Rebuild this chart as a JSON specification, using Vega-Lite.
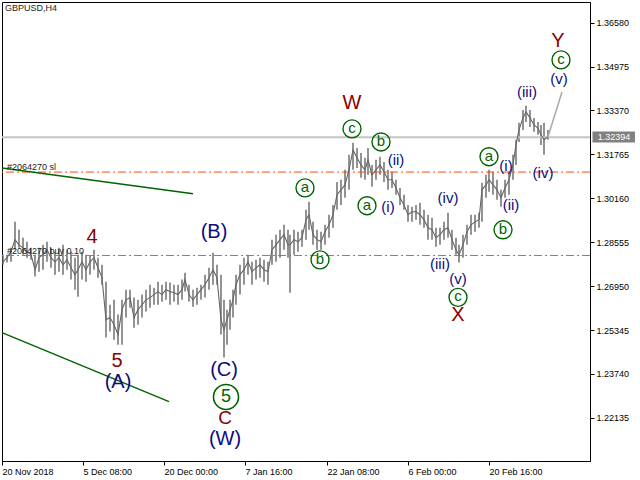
{
  "$schema": "https://vega.github.io/schema/vega-lite/v6.json",
  "width": 588,
  "height": 459,
  "autosize": {"type": "none"},
  "padding": {"left": 2, "top": 2, "right": 50, "bottom": 19},
  "background": "white",
  "config": {
    "view": {"stroke": "#000000", "strokeWidth": 1},
    "font": "Liberation Sans",
    "axis": {"grid": false, "labelFont": "Liberation Sans", "labelFontSize": 9, "labelColor": "#000000", "tickColor": "#000000", "domainColor": "#000000", "labelOverlap": false}
  },
  "datasets": {
    "levels": [
      {"p": 1.32394, "kind": "price"},
      {"p": 1.3112, "kind": "sl"},
      {"p": 1.2807, "kind": "buy"}
    ],
    "bars": [
      {"t":1,"high":1.2810,"low":1.2773,"close":1.2784},
      {"t":5,"high":1.2810,"low":1.2781,"close":1.2799},
      {"t":9,"high":1.2835,"low":1.2784,"close":1.2821},
      {"t":13,"high":1.2930,"low":1.2828,"close":1.2865},
      {"t":17,"high":1.2901,"low":1.2835,"close":1.2846},
      {"t":21,"high":1.2872,"low":1.2810,"close":1.2835},
      {"t":25,"high":1.2857,"low":1.2799,"close":1.2821},
      {"t":29,"high":1.2835,"low":1.2791,"close":1.2810},
      {"t":33,"high":1.2810,"low":1.2730,"close":1.2755},
      {"t":37,"high":1.2835,"low":1.2748,"close":1.2799},
      {"t":41,"high":1.2846,"low":1.2755,"close":1.2810},
      {"t":45,"high":1.2857,"low":1.2784,"close":1.2828},
      {"t":49,"high":1.2835,"low":1.2762,"close":1.2799},
      {"t":53,"high":1.2821,"low":1.2737,"close":1.2784},
      {"t":57,"high":1.2835,"low":1.2748,"close":1.2799},
      {"t":61,"high":1.2846,"low":1.2737,"close":1.2773},
      {"t":65,"high":1.2828,"low":1.2755,"close":1.2791},
      {"t":69,"high":1.2821,"low":1.2719,"close":1.2762},
      {"t":73,"high":1.2799,"low":1.2682,"close":1.2737},
      {"t":76,"high":1.2810,"low":1.2656,"close":1.2755},
      {"t":80,"high":1.2821,"low":1.2719,"close":1.2784},
      {"t":84,"high":1.2810,"low":1.2711,"close":1.2755},
      {"t":88,"high":1.2806,"low":1.2737,"close":1.2784},
      {"t":92,"high":1.2828,"low":1.2755,"close":1.2799},
      {"t":96,"high":1.2799,"low":1.2726,"close":1.2762},
      {"t":100,"high":1.2773,"low":1.2700,"close":1.2726},
      {"t":104,"high":1.2711,"low":1.2507,"close":1.2572},
      {"t":108,"high":1.2627,"low":1.2529,"close":1.2580},
      {"t":112,"high":1.2645,"low":1.2499,"close":1.2554},
      {"t":116,"high":1.2591,"low":1.2481,"close":1.2518},
      {"t":120,"high":1.2645,"low":1.2481,"close":1.2609},
      {"t":124,"high":1.2682,"low":1.2580,"close":1.2645},
      {"t":128,"high":1.2682,"low":1.2616,"close":1.2653},
      {"t":132,"high":1.2653,"low":1.2543,"close":1.2580},
      {"t":136,"high":1.2645,"low":1.2554,"close":1.2609},
      {"t":140,"high":1.2664,"low":1.2580,"close":1.2627},
      {"t":144,"high":1.2682,"low":1.2602,"close":1.2645},
      {"t":148,"high":1.2700,"low":1.2616,"close":1.2653},
      {"t":152,"high":1.2689,"low":1.2627,"close":1.2664},
      {"t":156,"high":1.2711,"low":1.2627,"close":1.2675},
      {"t":160,"high":1.2700,"low":1.2638,"close":1.2664},
      {"t":164,"high":1.2711,"low":1.2645,"close":1.2682},
      {"t":168,"high":1.2708,"low":1.2627,"close":1.2675},
      {"t":172,"high":1.2700,"low":1.2638,"close":1.2671},
      {"t":176,"high":1.2700,"low":1.2627,"close":1.2664},
      {"t":180,"high":1.2719,"low":1.2645,"close":1.2682},
      {"t":183,"high":1.2744,"low":1.2675,"close":1.2719},
      {"t":187,"high":1.2700,"low":1.2638,"close":1.2664},
      {"t":191,"high":1.2682,"low":1.2620,"close":1.2645},
      {"t":195,"high":1.2689,"low":1.2627,"close":1.2664},
      {"t":199,"high":1.2700,"low":1.2645,"close":1.2682},
      {"t":203,"high":1.2737,"low":1.2653,"close":1.2700},
      {"t":207,"high":1.2762,"low":1.2682,"close":1.2726},
      {"t":211,"high":1.2817,"low":1.2700,"close":1.2755},
      {"t":215,"high":1.2773,"low":1.2700,"close":1.2726},
      {"t":219,"high":1.2737,"low":1.2518,"close":1.2572},
      {"t":222,"high":1.2645,"low":1.2434,"close":1.2536},
      {"t":225,"high":1.2609,"low":1.2481,"close":1.2572},
      {"t":228,"high":1.2645,"low":1.2536,"close":1.2609},
      {"t":231,"high":1.2682,"low":1.2580,"close":1.2645},
      {"t":234,"high":1.2737,"low":1.2627,"close":1.2700},
      {"t":238,"high":1.2773,"low":1.2664,"close":1.2737},
      {"t":242,"high":1.2799,"low":1.2700,"close":1.2755},
      {"t":246,"high":1.2810,"low":1.2737,"close":1.2784},
      {"t":250,"high":1.2784,"low":1.2700,"close":1.2748},
      {"t":254,"high":1.2791,"low":1.2719,"close":1.2762},
      {"t":258,"high":1.2799,"low":1.2726,"close":1.2773},
      {"t":262,"high":1.2791,"low":1.2711,"close":1.2755},
      {"t":266,"high":1.2784,"low":1.2700,"close":1.2748},
      {"t":270,"high":1.2865,"low":1.2773,"close":1.2828},
      {"t":274,"high":1.2883,"low":1.2784,"close":1.2846},
      {"t":278,"high":1.2901,"low":1.2799,"close":1.2865},
      {"t":282,"high":1.2919,"low":1.2828,"close":1.2883},
      {"t":286,"high":1.2901,"low":1.2799,"close":1.2846},
      {"t":288,"high":1.2883,"low":1.2671,"close":1.2846},
      {"t":292,"high":1.2901,"low":1.2810,"close":1.2865},
      {"t":296,"high":1.2894,"low":1.2821,"close":1.2857},
      {"t":300,"high":1.2901,"low":1.2839,"close":1.2872},
      {"t":304,"high":1.2974,"low":1.2865,"close":1.2938},
      {"t":307,"high":1.3003,"low":1.2901,"close":1.2956},
      {"t":311,"high":1.2930,"low":1.2846,"close":1.2883},
      {"t":315,"high":1.2901,"low":1.2828,"close":1.2865},
      {"t":319,"high":1.2894,"low":1.2828,"close":1.2857},
      {"t":323,"high":1.2919,"low":1.2846,"close":1.2894},
      {"t":327,"high":1.2956,"low":1.2872,"close":1.2919},
      {"t":331,"high":1.2992,"low":1.2908,"close":1.2956},
      {"t":335,"high":1.3076,"low":1.2974,"close":1.3029},
      {"t":339,"high":1.3084,"low":1.2992,"close":1.3047},
      {"t":343,"high":1.3120,"low":1.3018,"close":1.3065},
      {"t":347,"high":1.3175,"low":1.3047,"close":1.3120},
      {"t":351,"high":1.3219,"low":1.3120,"close":1.3193},
      {"t":355,"high":1.3200,"low":1.3127,"close":1.3164},
      {"t":359,"high":1.3182,"low":1.3091,"close":1.3138},
      {"t":363,"high":1.3164,"low":1.3084,"close":1.3120},
      {"t":366,"high":1.3200,"low":1.3102,"close":1.3157},
      {"t":370,"high":1.3138,"low":1.3058,"close":1.3102},
      {"t":374,"high":1.3157,"low":1.3084,"close":1.3120},
      {"t":378,"high":1.3168,"low":1.3102,"close":1.3138},
      {"t":382,"high":1.3149,"low":1.3076,"close":1.3113},
      {"t":386,"high":1.3120,"low":1.3047,"close":1.3084},
      {"t":390,"high":1.3113,"low":1.3054,"close":1.3084},
      {"t":394,"high":1.3084,"low":1.3029,"close":1.3054},
      {"t":398,"high":1.3054,"low":1.2992,"close":1.3018},
      {"t":402,"high":1.3029,"low":1.2974,"close":1.2992},
      {"t":406,"high":1.2992,"low":1.2930,"close":1.2956},
      {"t":410,"high":1.2985,"low":1.2930,"close":1.2967},
      {"t":414,"high":1.2992,"low":1.2938,"close":1.2967},
      {"t":418,"high":1.3000,"low":1.2919,"close":1.2956},
      {"t":422,"high":1.2974,"low":1.2908,"close":1.2938},
      {"t":426,"high":1.2956,"low":1.2865,"close":1.2908},
      {"t":430,"high":1.2945,"low":1.2865,"close":1.2901},
      {"t":434,"high":1.2908,"low":1.2839,"close":1.2872},
      {"t":438,"high":1.2908,"low":1.2846,"close":1.2883},
      {"t":442,"high":1.2930,"low":1.2865,"close":1.2901},
      {"t":446,"high":1.2963,"low":1.2872,"close":1.2908},
      {"t":450,"high":1.2901,"low":1.2828,"close":1.2865},
      {"t":454,"high":1.2872,"low":1.2810,"close":1.2828},
      {"t":457,"high":1.2846,"low":1.2781,"close":1.2810},
      {"t":461,"high":1.2883,"low":1.2799,"close":1.2846},
      {"t":465,"high":1.2919,"low":1.2846,"close":1.2894},
      {"t":469,"high":1.2956,"low":1.2883,"close":1.2919},
      {"t":473,"high":1.2956,"low":1.2894,"close":1.2930},
      {"t":477,"high":1.2963,"low":1.2908,"close":1.2938},
      {"t":480,"high":1.3073,"low":1.2930,"close":1.3047},
      {"t":484,"high":1.3102,"low":1.3018,"close":1.3065},
      {"t":487,"high":1.3120,"low":1.3040,"close":1.3084},
      {"t":491,"high":1.3113,"low":1.3029,"close":1.3065},
      {"t":495,"high":1.3084,"low":1.3011,"close":1.3047},
      {"t":499,"high":1.3047,"low":1.2985,"close":1.3018},
      {"t":503,"high":1.3084,"low":1.3018,"close":1.3054},
      {"t":507,"high":1.3113,"low":1.3029,"close":1.3084},
      {"t":511,"high":1.3175,"low":1.3084,"close":1.3138},
      {"t":514,"high":1.3230,"low":1.3138,"close":1.3211},
      {"t":517,"high":1.3292,"low":1.3222,"close":1.3266},
      {"t":521,"high":1.3339,"low":1.3266,"close":1.3310},
      {"t":524,"high":1.3354,"low":1.3295,"close":1.3332},
      {"t":528,"high":1.3339,"low":1.3277,"close":1.3310},
      {"t":532,"high":1.3310,"low":1.3259,"close":1.3284},
      {"t":536,"high":1.3295,"low":1.3248,"close":1.3273},
      {"t":539,"high":1.3284,"low":1.3211,"close":1.3248},
      {"t":542,"high":1.3292,"low":1.3175,"close":1.3230},
      {"t":546,"high":1.3266,"low":1.3230,"close":1.3241}
    ],
    "trend": [
      {"line":"upper","t":0,"p":1.3127},
      {"line":"upper","t":191,"p":1.3033},
      {"line":"lower","t":0,"p":1.2525},
      {"line":"lower","t":167,"p":1.2273}
    ],
    "proj": [
      {"t":546,"p":1.3241},
      {"t":560,"p":1.3405}
    ],
    "notes": [
      {"t":3,"p":1.3712,"label":"GBPUSD,H4"},
      {"t":5,"p":1.3131,"label":"#2064270 sl"},
      {"t":5,"p":1.2824,"label":"#2064270 buy 0.10"}
    ],
    "waves": [
      {"t":90,"p":1.2875,"label":"4","kind":"red"},
      {"t":115,"p":1.2423,"label":"5","kind":"red"},
      {"t":223,"p":1.2213,"label":"C","kind":"redc"},
      {"t":350,"p":1.3365,"label":"W","kind":"red"},
      {"t":456,"p":1.2590,"label":"X","kind":"red"},
      {"t":556,"p":1.3591,"label":"Y","kind":"red"},
      {"t":116,"p":1.2346,"label":"(A)","kind":"big"},
      {"t":212,"p":1.2894,"label":"(B)","kind":"big"},
      {"t":222,"p":1.2388,"label":"(C)","kind":"big"},
      {"t":223,"p":1.2138,"label":"(W)","kind":"big"},
      {"t":394,"p":1.3157,"label":"(ii)","kind":"small"},
      {"t":386,"p":1.2985,"label":"(i)","kind":"small"},
      {"t":446,"p":1.3018,"label":"(iv)","kind":"small"},
      {"t":438,"p":1.2777,"label":"(iii)","kind":"small"},
      {"t":456,"p":1.2722,"label":"(v)","kind":"small"},
      {"t":504,"p":1.3135,"label":"(i)","kind":"small"},
      {"t":509,"p":1.2992,"label":"(ii)","kind":"small"},
      {"t":525,"p":1.3405,"label":"(iii)","kind":"small"},
      {"t":541,"p":1.3109,"label":"(iv)","kind":"small"},
      {"t":557,"p":1.3452,"label":"(v)","kind":"small"},
      {"t":224,"p":1.2290,"label":"5","kind":"circbig"},
      {"t":303,"p":1.3054,"label":"a","kind":"circ"},
      {"t":318,"p":1.2791,"label":"b","kind":"circ"},
      {"t":350,"p":1.3270,"label":"c","kind":"circ"},
      {"t":379,"p":1.3222,"label":"b","kind":"circ"},
      {"t":365,"p":1.2989,"label":"a","kind":"circ"},
      {"t":456,"p":1.2654,"label":"c","kind":"circ"},
      {"t":487,"p":1.3168,"label":"a","kind":"circ"},
      {"t":501,"p":1.2901,"label":"b","kind":"circ"},
      {"t":559,"p":1.3522,"label":"c","kind":"circ"}
    ]
  },
  "layer": [
    {
      "data": {"name": "bars"},
      "mark": {"type": "rule", "color": "#666666", "strokeWidth": 1.4},
      "encoding": {
        "x": {"field": "t", "type": "quantitative", "title": null, "scale": {"domain": [0, 588], "nice": false, "zero": false},
          "axis": {"orient": "bottom", "title": null, "values": [0, 81, 162, 243, 325, 406, 487], "tickSize": 4, "labelAlign": "left", "labelPadding": 2, "labelBaseline": "top",
            "labelExpr": "datum.value == 0 ? '20 Nov 2018' : datum.value == 81 ? '5 Dec 08:00' : datum.value == 162 ? '20 Dec 00:00' : datum.value == 243 ? '7 Jan 16:00' : datum.value == 325 ? '22 Jan 08:00' : datum.value == 406 ? '6 Feb 00:00' : '20 Feb 16:00'"}},
        "y": {"field": "low", "type": "quantitative", "title": null,
          "scale": {"domain": [1.20558, 1.37336], "nice": false, "zero": false},
          "axis": {"orient": "right", "title": null, "values": [1.22135, 1.2374, 1.25345, 1.2695, 1.28555, 1.3016, 1.31765, 1.3337, 1.34975, 1.3658], "format": ".5f", "tickSize": 4, "labelPadding": 2}},
        "y2": {"field": "high"}
      }
    },
    {
      "data": {"name": "levels"},
      "transform": [{"filter": "datum.kind == 'price'"}],
      "mark": {"type": "rule", "color": "#c4c4c4", "strokeWidth": 2},
      "encoding": {"y": {"field": "p", "type": "quantitative", "title": null}}
    },
    {
      "data": {"name": "levels"},
      "transform": [{"filter": "datum.kind == 'sl'"}],
      "mark": {"type": "rule", "color": "#ff4500", "strokeWidth": 1, "strokeDash": [8, 3, 2, 3]},
      "encoding": {"y": {"field": "p", "type": "quantitative", "title": null}}
    },
    {
      "data": {"name": "levels"},
      "transform": [{"filter": "datum.kind == 'buy'"}],
      "mark": {"type": "rule", "color": "#40b040", "strokeWidth": 1, "strokeDash": [8, 3, 2, 3]},
      "encoding": {"y": {"field": "p", "type": "quantitative", "title": null}}
    },
    {
      "data": {"name": "bars"},
      "mark": {"type": "line", "color": "#666666", "strokeWidth": 1.1},
      "encoding": {
        "x": {"field": "t", "type": "quantitative", "title": null},
        "y": {"field": "close", "type": "quantitative", "title": null}
      }
    },
    {
      "data": {"name": "trend"},
      "mark": {"type": "line", "color": "#006400", "strokeWidth": 1.5},
      "encoding": {
        "x": {"field": "t", "type": "quantitative", "title": null},
        "y": {"field": "p", "type": "quantitative", "title": null},
        "detail": {"field": "line"}
      }
    },
    {
      "data": {"name": "proj"},
      "mark": {"type": "line", "color": "#a8a8a8", "strokeWidth": 1.5},
      "encoding": {
        "x": {"field": "t", "type": "quantitative", "title": null},
        "y": {"field": "p", "type": "quantitative", "title": null}
      }
    },
    {
      "data": {"name": "notes"},
      "mark": {"type": "text", "align": "left", "baseline": "middle", "fontSize": 9, "font": "Liberation Sans", "color": "#1a1a1a"},
      "encoding": {
        "x": {"field": "t", "type": "quantitative", "title": null},
        "y": {"field": "p", "type": "quantitative", "title": null},
        "text": {"field": "label"}
      }
    },
    {
      "data": {"name": "levels"},
      "transform": [{"filter": "datum.kind == 'price'"}],
      "mark": {"type": "rect", "color": "#808080", "clip": false},
      "encoding": {
        "x": {"datum": 590.5, "type": "quantitative", "title": null},
        "x2": {"datum": 633},
        "y": {"datum": 1.3260, "type": "quantitative", "title": null},
        "y2": {"datum": 1.3220}
      }
    },
    {
      "data": {"name": "levels"},
      "transform": [{"filter": "datum.kind == 'price'"}],
      "mark": {"type": "text", "color": "#ffffff", "fontSize": 9, "font": "Liberation Sans", "align": "center", "baseline": "middle", "clip": false},
      "encoding": {
        "x": {"datum": 612, "type": "quantitative", "title": null},
        "y": {"field": "p", "type": "quantitative", "title": null},
        "text": {"field": "p", "format": ".5f"}
      }
    },
    {
      "data": {"name": "waves"},
      "transform": [{"filter": "datum.kind == 'red'"}],
      "mark": {"type": "text", "fontSize": 20, "font": "Liberation Sans", "color": "#8b0000", "align": "center", "baseline": "middle"},
      "encoding": {
        "x": {"field": "t", "type": "quantitative", "title": null},
        "y": {"field": "p", "type": "quantitative", "title": null},
        "text": {"field": "label"}
      }
    },
    {
      "data": {"name": "waves"},
      "transform": [{"filter": "datum.kind == 'redc'"}],
      "mark": {"type": "text", "fontSize": 19, "font": "Liberation Sans", "color": "#8b0000", "align": "center", "baseline": "middle"},
      "encoding": {
        "x": {"field": "t", "type": "quantitative", "title": null},
        "y": {"field": "p", "type": "quantitative", "title": null},
        "text": {"field": "label"}
      }
    },
    {
      "data": {"name": "waves"},
      "transform": [{"filter": "datum.kind == 'big'"}],
      "mark": {"type": "text", "fontSize": 20, "font": "Liberation Sans", "color": "#0c0c80", "align": "center", "baseline": "middle"},
      "encoding": {
        "x": {"field": "t", "type": "quantitative", "title": null},
        "y": {"field": "p", "type": "quantitative", "title": null},
        "text": {"field": "label"}
      }
    },
    {
      "data": {"name": "waves"},
      "transform": [{"filter": "datum.kind == 'small'"}],
      "mark": {"type": "text", "fontSize": 15, "font": "Liberation Sans", "color": "#0c0c80", "align": "center", "baseline": "middle"},
      "encoding": {
        "x": {"field": "t", "type": "quantitative", "title": null},
        "y": {"field": "p", "type": "quantitative", "title": null},
        "text": {"field": "label"}
      }
    },
    {
      "data": {"name": "waves"},
      "transform": [{"filter": "datum.kind == 'circ'"}],
      "mark": {"type": "point", "shape": "circle", "filled": false, "size": 324, "stroke": "#006400", "strokeWidth": 1.4, "opacity": 1},
      "encoding": {
        "x": {"field": "t", "type": "quantitative", "title": null},
        "y": {"field": "p", "type": "quantitative", "title": null}
      }
    },
    {
      "data": {"name": "waves"},
      "transform": [{"filter": "datum.kind == 'circ'"}],
      "mark": {"type": "text", "fontSize": 15, "font": "Liberation Sans", "color": "#006400", "align": "center", "baseline": "middle", "dy": -1},
      "encoding": {
        "x": {"field": "t", "type": "quantitative", "title": null},
        "y": {"field": "p", "type": "quantitative", "title": null},
        "text": {"field": "label"}
      }
    },
    {
      "data": {"name": "waves"},
      "transform": [{"filter": "datum.kind == 'circbig'"}],
      "mark": {"type": "point", "shape": "circle", "filled": false, "size": 625, "stroke": "#006400", "strokeWidth": 1.6, "opacity": 1},
      "encoding": {
        "x": {"field": "t", "type": "quantitative", "title": null},
        "y": {"field": "p", "type": "quantitative", "title": null}
      }
    },
    {
      "data": {"name": "waves"},
      "transform": [{"filter": "datum.kind == 'circbig'"}],
      "mark": {"type": "text", "fontSize": 18, "font": "Liberation Sans", "color": "#006400", "align": "center", "baseline": "middle"},
      "encoding": {
        "x": {"field": "t", "type": "quantitative", "title": null},
        "y": {"field": "p", "type": "quantitative", "title": null},
        "text": {"field": "label"}
      }
    }
  ]
}
